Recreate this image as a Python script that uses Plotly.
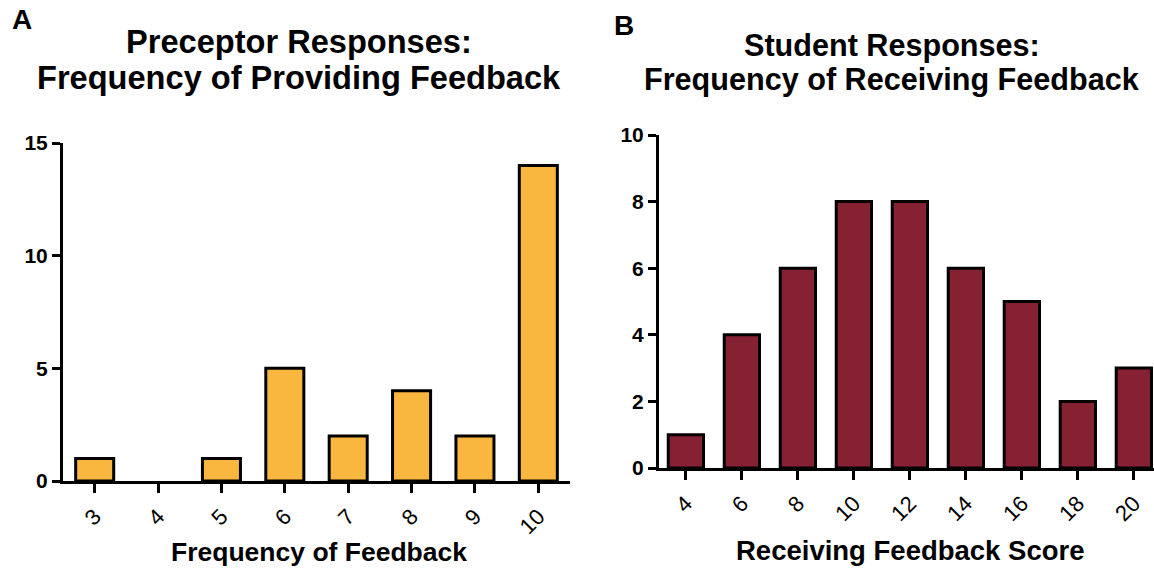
import plotly.graph_objects as go

# Panel A: preceptor responses
preceptor_freq = ["3", "4", "5", "6", "7", "8", "9", "10"]
preceptor_counts = [1, 0, 1, 5, 2, 4, 2, 14]

# Panel B: student responses
student_score = ["4", "6", "8", "10", "12", "14", "16", "18", "20"]
student_counts = [1, 4, 6, 8, 8, 6, 5, 2, 3]

W, H = 1154, 569
FONT = "Liberation Sans, Arial, sans-serif"
YELLOW = "#F9B73F"
MAROON = "#862134"


def px_x(v):
    return v / W


def px_y(v):
    return (H - v) / H


def outline(values):
    # no outline on empty bars so nothing is drawn for a zero count
    return [3 if v > 0 else 0 for v in values]


fig = go.Figure()
fig.add_trace(go.Bar(x=preceptor_freq, y=preceptor_counts, xaxis="x", yaxis="y",
                     marker=dict(color=YELLOW,
                                 line=dict(color="black", width=outline(preceptor_counts))),
                     width=0.6, showlegend=False))
fig.add_trace(go.Bar(x=student_score, y=student_counts, xaxis="x2", yaxis="y2",
                     marker=dict(color=MAROON,
                                 line=dict(color="black", width=outline(student_counts))),
                     width=0.63, showlegend=False))

axis_common = dict(showgrid=False, zeroline=False, showline=True, linecolor="black",
                   linewidth=3, ticks="outside", tickcolor="black", tickwidth=3,
                   automargin=False)
ytick_font = dict(family=FONT, size=21, color="black", weight="bold")
xtick_font = dict(family=FONT, size=22, color="black")

fig.update_layout(
    width=W, height=H, margin=dict(l=0, r=0, t=0, b=0),
    paper_bgcolor="white", plot_bgcolor="white",
    xaxis=dict(axis_common, domain=[px_x(63), px_x(570)], anchor="y",
               type="category", range=[-0.5, 7.5], ticklen=9, tickangle=-45,
               tickfont=xtick_font, ticklabelstandoff=2),
    yaxis=dict(axis_common, domain=[px_y(481), px_y(143)], anchor="x",
               range=[0, 15], tickvals=[0, 5, 10, 15], ticklen=8, tickfont=ytick_font),
    xaxis2=dict(axis_common, domain=[px_x(659), 1.0], anchor="y2",
                type="category", range=[-0.48, 8.36], ticklen=9, tickangle=-45,
                tickfont=xtick_font, ticklabelstandoff=2),
    yaxis2=dict(axis_common, domain=[px_y(468), px_y(135)], anchor="x2",
                range=[0, 10], tickvals=[0, 2, 4, 6, 8, 10], ticklen=8, tickfont=ytick_font),
)

texts = [
    ("A", 22, 20, 28),
    ("B", 624, 25, 28),
    ("Preceptor Responses:", 299, 41, 32.6),
    ("Frequency of Providing Feedback", 299, 77, 32.6),
    ("Student Responses:", 892, 46, 30.6),
    ("Frequency of Receiving Feedback", 892, 80, 30.6),
    ("Frequency of Feedback", 319, 552, 26.5),
    ("Receiving Feedback Score", 910, 550, 27.5),
]
for txt, x, y, size in texts:
    fig.add_annotation(text=txt, x=px_x(x), y=px_y(y), xref="paper", yref="paper",
                       xanchor="center", yanchor="middle", showarrow=False,
                       font=dict(family=FONT, size=size, color="black", weight="bold"))

fig.write_html("out.html")
